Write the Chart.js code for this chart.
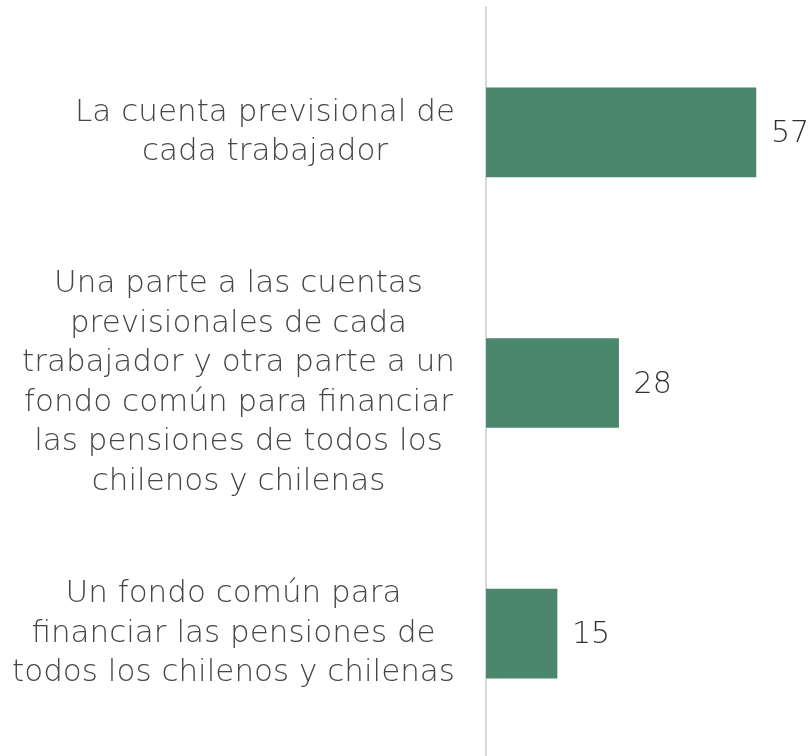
<!DOCTYPE html>
<html>
<head>
<meta charset="utf-8">
<script src="https://cdn.jsdelivr.net/npm/chart.js@4.4.1/dist/chart.umd.min.js"></script>
<style>
  html, body { margin: 0; padding: 0; background: #fff; overflow: hidden; }
  #wrap { width: 808px; height: 756px; overflow: hidden; }
</style>
</head>
<body>
<div id="wrap"><canvas id="chart" width="808" height="759"></canvas></div>
<script>
// categories (one line per entry) and values
const categories = [
    ["La cuenta previsional de", "cada trabajador"],
    ["Una parte a las cuentas", "previsionales de cada", "trabajador y otra parte a un", "fondo común para financiar", "las pensiones de todos los", "chilenos y chilenas"],
    ["Un fondo común para", "financiar las pensiones de", "todos los chilenos y chilenas"]
];
const values = [57, 28, 15];

const barColor = '#4a876d';
const labelFont = '200 31px "DejaVu Sans", sans-serif';
const valueFont = '200 30px "DejaVu Sans", sans-serif';

// draws the category blocks and the value labels
const labelsPlugin = {
    id: 'labels',
    afterDraw(chart) {
        const ctx = chart.ctx;
        const yScale = chart.scales.y;
        const meta = chart.getDatasetMeta(0);
        ctx.save();
        ctx.textBaseline = 'middle';

        ctx.font = labelFont;
        categories.forEach((lines, i) => {
            const cy = yScale.getPixelForValue(i);
            const maxW = Math.max(...lines.map(l => ctx.measureText(l).width));
            const cx = 455 - maxW / 2;
            const lh = 39.5;
            const start = cy - (lines.length - 1) * lh / 2;
            ctx.fillStyle = '#454545';
            ctx.textAlign = 'center';
            lines.forEach((l, j) => ctx.fillText(l, cx, start + j * lh));
        });

        ctx.font = valueFont;
        meta.data.forEach((bar, i) => {
            ctx.fillStyle = '#303030';
            ctx.textAlign = 'left';
            ctx.fillText(values[i], bar.x + 15, bar.y + 2);
        });
        ctx.restore();
    }
};

new Chart(document.getElementById('chart'), {
    type: 'bar',
    data: {
        labels: categories,
        datasets: [{
            data: values,
            backgroundColor: barColor,
            barThickness: 89
        }]
    },
    options: {
        indexAxis: 'y',
        responsive: false,
        animation: false,
        layout: { padding: { top: 7, bottom: 0, left: 0, right: 0 } },
        plugins: { legend: { display: false }, tooltip: { enabled: false } },
        scales: {
            x: {
                display: false,
                min: 0,
                max: 68
            },
            y: {
                grid: { display: false },
                ticks: { display: false },
                border: { display: true, color: '#d9d9d9', width: 2 },
                afterFit(scale) { scale.width = 486; }
            }
        }
    },
    plugins: [labelsPlugin]
});
</script>
</body>
</html>
